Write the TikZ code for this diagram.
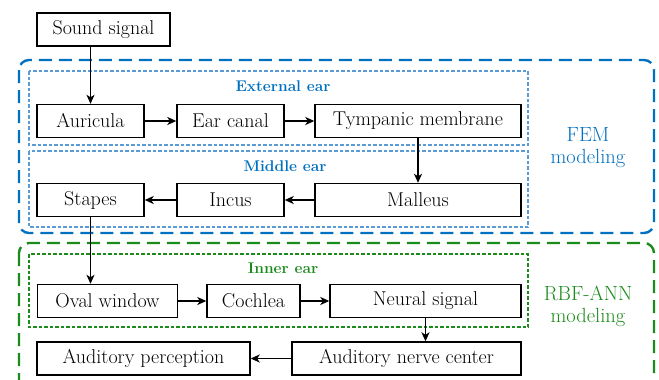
\documentclass[tikz,border=0pt]{standalone}
\usetikzlibrary{arrows.meta}
\definecolor{femblue}{HTML}{0070C0}
\definecolor{lightblue}{HTML}{5B9BD5}
\definecolor{anngreen}{HTML}{1B8C1B}
\tikzset{
  box/.style={draw=black, line width=1.4pt, minimum height=33pt, inner sep=0pt, font=\rmfamily\fontsize{20}{23}\selectfont},
  arr/.style={line width=1.3pt, -{Stealth[length=9pt,width=8pt,inset=2.5pt]}},
  outerbox/.style={line width=2.4pt, dash pattern=on 13pt off 7pt, rounded corners=10pt},
  innerbox/.style={line width=1.2pt, dash pattern=on 3.5pt off 2pt},
  grouplabel/.style={font=\rmfamily\fontsize{15.5}{19}\selectfont\bfseries},
  sidelabel/.style={font=\rmfamily\fontsize{20.5}{22}\selectfont, align=center}
}
\begin{document}
\begin{tikzpicture}[x=1pt,y=-1pt]
\clip (0,0) rectangle (659,380);
\fill[white] (0,0) rectangle (659,380);
% outer modelling regions
\draw[outerbox, femblue] (19,60) rectangle (654,233);
\draw[outerbox, anngreen] (19,243) rectangle (654,410);
% inner group regions
\draw[innerbox, lightblue] (29,71) rectangle (528,145);
\draw[innerbox, lightblue] (29,151) rectangle (528,227);
\draw[innerbox, anngreen] (29,254) rectangle (528,327);
% labels
\node[grouplabel, text=femblue] (lext) at (283,86) {External ear};
\node[grouplabel, text=femblue] (lmid) at (285,166) {Middle ear};
\node[grouplabel, text=anngreen] (linn) at (283,268) {Inner ear};
\node[sidelabel, text=femblue] (lfem) at (588,148) {FEM\\modeling};
\node[sidelabel, text=anngreen] (lann) at (588,306) {RBF-ANN\\modeling};
% boxes
\node[box, minimum width=133pt] (sound) at (103.5,29.5) {Sound signal};
\node[box, minimum width=107pt] (auricula) at (90.5,121) {Auricula};
\node[box, minimum width=107pt] (canal) at (230.5,121) {Ear canal};
\node[box, minimum width=206pt] (tymp) at (418,121) {Tympanic membrane};
\node[box, minimum width=107pt] (stapes) at (90.5,200) {Stapes};
\node[box, minimum width=107pt] (incus) at (230.5,200) {Incus};
\node[box, minimum width=206pt] (malleus) at (418,200) {Malleus};
\node[box, minimum width=140pt] (oval) at (107.5,301) {Oval window};
\node[box, minimum width=93pt] (cochlea) at (253.5,301) {Cochlea};
\node[box, minimum width=191pt] (neural) at (425.5,301) {Neural signal};
\node[box, minimum width=213pt] (percep) at (143.5,358.5) {Auditory perception};
\node[box, minimum width=229pt] (nerve) at (406.5,358.5) {Auditory nerve center};
% connectors
\draw[arr] (sound.south -| auricula.north) -- (auricula.north);
\draw[arr] (auricula) -- (canal);
\draw[arr] (canal) -- (tymp);
\draw[arr] (tymp) -- (malleus);
\draw[arr] (malleus) -- (incus);
\draw[arr] (incus) -- (stapes);
\draw[arr] (stapes.south) -- (stapes.south |- oval.north);
\draw[arr] (oval) -- (cochlea);
\draw[arr] (cochlea) -- (neural);
\draw[arr] (neural.south) -- (neural.south |- nerve.north);
\draw[arr] (nerve) -- (percep);
\end{tikzpicture}
\end{document}
